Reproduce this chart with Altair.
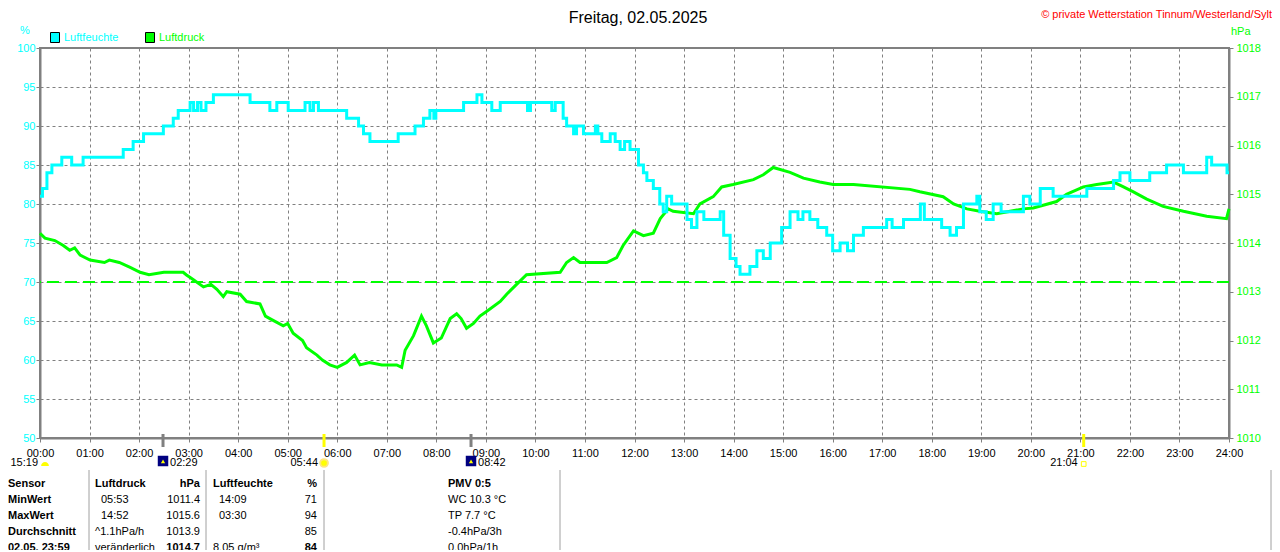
import altair as alt
import pandas as pd

# ---------------- data ----------------
hum_hours = [0.00, 0.05, 0.14, 0.24, 0.44, 0.64, 0.87, 1.68, 1.88, 2.09, 2.49, 2.69, 2.79, 3.03,
             3.10, 3.18, 3.25, 3.35, 3.50, 4.24, 4.64, 4.78, 5.01, 5.35, 5.45, 5.52, 5.62, 6.19,
             6.43, 6.53, 6.66, 7.23, 7.57, 7.74, 7.87, 7.95, 7.99, 8.55, 8.82, 8.92, 9.12, 9.29,
             9.84, 9.90, 10.33, 10.40, 10.56, 10.63, 10.77, 10.83, 10.97, 11.21, 11.26, 11.34,
             11.51, 11.61, 11.71, 11.80, 11.91, 12.08, 12.18, 12.25, 12.38, 12.51, 12.58, 12.65,
             12.75, 13.06, 13.15, 13.26, 13.40, 13.73, 13.80, 13.93, 14.05, 14.13, 14.33, 14.47,
             14.60, 14.74, 14.97, 15.14, 15.30, 15.40, 15.54, 15.70, 15.88, 16.00, 16.15, 16.30,
             16.42, 16.62, 17.09, 17.20, 17.43, 17.77, 17.85, 18.20, 18.37, 18.50, 18.64, 18.91,
             18.97, 19.10, 19.24, 19.40, 19.85, 19.98, 20.19, 20.45, 21.13, 21.67, 21.80, 22.00,
             22.40, 22.74, 23.08, 23.55, 23.65, 23.96, 24.00]
hum_values = [81, 82, 84, 85, 86, 85, 86, 87, 88, 89, 90, 91, 92, 93,
              92, 93, 92, 93, 94, 93, 92, 93, 92, 93, 92, 93, 92, 91,
              90, 89, 88, 89, 90, 91, 92, 91, 92, 93, 94, 93, 92, 93,
              92, 93, 92, 93, 91, 90, 89, 90, 89, 90, 89, 88,
              89, 88, 87, 88, 87, 85, 84, 83, 82, 80, 79, 81,
              80, 78, 77, 79, 78, 79, 76, 73, 72, 71, 72, 74,
              73, 75, 77, 79, 78, 79, 78, 77, 76, 74, 75, 74,
              76, 77, 78, 77, 78, 80, 78, 77, 76, 77, 80, 81,
              79, 78, 80, 79, 81, 80, 82, 81, 82, 83, 84, 83,
              84, 85, 84, 86, 85, 84, 84]

pres_hours = [0.00, 0.10, 0.30, 0.47, 0.60, 0.70, 0.81, 1.01, 1.30, 1.40, 1.60, 1.82, 2.02, 2.20,
              2.50, 2.89, 2.95, 3.09, 3.30, 3.45, 3.57, 3.70, 3.77, 4.04, 4.17, 4.44, 4.55, 4.64,
              4.91, 5.00, 5.11, 5.30, 5.38, 5.59, 5.70, 5.85, 6.00, 6.19, 6.35, 6.46, 6.65, 6.90,
              7.20, 7.30, 7.37, 7.54, 7.70, 7.80, 7.94, 8.10, 8.28, 8.41, 8.50, 8.61, 8.75, 8.88,
              9.02, 9.29, 9.42, 9.62, 9.82, 10.50, 10.63, 10.77, 10.90, 11.44, 11.64, 11.77, 11.98,
              12.18, 12.38, 12.52, 12.68, 12.78, 13.19, 13.32, 13.59, 13.76, 13.99, 14.40, 14.60,
              14.80, 15.14, 15.41, 15.74, 16.01, 16.42, 17.56, 17.76, 18.23, 18.44, 18.71, 18.97,
              19.31, 19.85, 20.05, 20.52, 20.72, 21.06, 21.33, 21.67, 21.87, 22.07, 22.34, 22.67,
              23.08, 23.55, 23.95, 24.00]
pres_values = [1014.20, 1014.10, 1014.05, 1013.95, 1013.85, 1013.90, 1013.75, 1013.65, 1013.60,
               1013.65, 1013.60, 1013.50, 1013.40, 1013.35, 1013.40, 1013.40, 1013.35, 1013.25,
               1013.10, 1013.15, 1013.05, 1012.90, 1013.00, 1012.95, 1012.80, 1012.75, 1012.50,
               1012.45, 1012.30, 1012.35, 1012.15, 1012.00, 1011.85, 1011.70, 1011.60, 1011.50,
               1011.45, 1011.55, 1011.70, 1011.50, 1011.55, 1011.50, 1011.50, 1011.45, 1011.80,
               1012.10, 1012.50, 1012.30, 1011.95, 1012.05, 1012.45, 1012.55, 1012.45, 1012.25,
               1012.35, 1012.50, 1012.60, 1012.80, 1012.95, 1013.15, 1013.35, 1013.40, 1013.60,
               1013.70, 1013.60, 1013.60, 1013.70, 1013.95, 1014.25, 1014.15, 1014.20, 1014.50,
               1014.70, 1014.65, 1014.60, 1014.80, 1014.95, 1015.15, 1015.20, 1015.30, 1015.40,
               1015.55, 1015.45, 1015.33, 1015.25, 1015.20, 1015.20, 1015.10, 1015.05, 1014.95,
               1014.80, 1014.70, 1014.65, 1014.60, 1014.70, 1014.72, 1014.85, 1015.00, 1015.15,
               1015.20, 1015.25, 1015.15, 1015.05, 1014.90, 1014.75, 1014.65, 1014.55, 1014.50,
               1014.70]

ref_pressure = [1013.2]

event_hours = [2.483, 5.733, 8.700, 21.067]
event_labels = ["02:29", "05:44", "08:42", "21:04"]
event_kinds = ["moon", "sun", "moon", "sun"]

title_text = "Freitag, 02.05.2025"
copyright_text = "\u00a9 private Wetterstation Tinnum/Westerland/Sylt"
series_names = ["Luftfeuchte", "Luftdruck"]

table_rows = [
    ["Sensor", "Luftdruck", "hPa", "Luftfeuchte", "%", "PMV 0:5"],
    ["MinWert", "05:53", "1011.4", "14:09", "71", "WC 10.3 \u00b0C"],
    ["MaxWert", "14:52", "1015.6", "03:30", "94", "TP 7.7 \u00b0C"],
    ["Durchschnitt", "^1.1hPa/h", "1013.9", "", "85", "-0.4hPa/3h"],
    ["02.05.  23:59", "ver\u00e4nderlich", "1014.7", "8.05 g/m\u00b3", "84", "0.0hPa/1h"],
]

# ---------------- styling / layout ----------------
W, H = 1189, 390
X0, Y0 = 40, 48
FONT = "Liberation Sans"
NARROW = "Liberation Sans Narrow, Liberation Sans"
CYAN = "#00FFFF"
GREEN = "#00FF00"
GRAY = "#808080"

hum_df = pd.DataFrame({"hour": hum_hours, "hum": hum_values})
pres_df = pd.DataFrame({"hour": pres_hours, "p": pres_values})
ref_df = pd.DataFrame({"p": ref_pressure})
ev_df = pd.DataFrame({"hour": event_hours, "label": event_labels, "kind": event_kinds})

x_scale = alt.Scale(domain=[0, 24], nice=False, zero=False)
hum_scale = alt.Scale(domain=[50, 100], nice=False, zero=False)
p_scale = alt.Scale(domain=[1010, 1018], nice=False, zero=False)

x_axis = alt.Axis(values=list(range(25)),
                  labelExpr="(datum.value < 10 ? '0' : '') + datum.value + ':00'",
                  grid=True, gridDash=[3, 3], gridColor=GRAY, gridOpacity=1, gridWidth=1,
                  domainColor=GRAY, domainWidth=2, tickColor=GRAY, tickSize=4,
                  labelColor="black", labelFont=NARROW, labelFontSize=11, labelPadding=5,
                  labelFlush=False, labelOverlap=False, title=None)
hum_axis = alt.Axis(values=list(range(50, 101, 5)), orient="left",
                    grid=True, gridDash=[3, 3], gridColor=GRAY, gridOpacity=1, gridWidth=1,
                    domainColor=GRAY, domainWidth=2, tickColor=GRAY, tickSize=4,
                    labelColor=CYAN, labelFont=FONT, labelFontSize=11, labelPadding=1,
                    title=None)
p_axis = alt.Axis(values=list(range(1010, 1019)), orient="right", grid=False,
                  domainColor=GRAY, domainWidth=2, tickColor=GRAY, tickSize=4,
                  labelColor=GREEN, labelFont=FONT, labelFontSize=11, labelPadding=3,
                  format="d", title=None)

pres_line = alt.Chart(pres_df).mark_line(color=GREEN, strokeWidth=3).encode(
    x=alt.X("hour:Q", scale=x_scale, axis=x_axis),
    y=alt.Y("p:Q", scale=p_scale, axis=p_axis),
)
hum_line = alt.Chart(hum_df).mark_line(color=CYAN, strokeWidth=3, interpolate="step-after").encode(
    x=alt.X("hour:Q", scale=x_scale, axis=x_axis),
    y=alt.Y("hum:Q", scale=hum_scale, axis=hum_axis),
)
ref_rule = alt.Chart(ref_df).mark_rule(color=GREEN, strokeWidth=2, strokeDash=[12, 6]).encode(
    y=alt.Y("p:Q", scale=p_scale, axis=None),
)

ev_rules = alt.Chart(ev_df).mark_rule(strokeWidth=3).encode(
    x=alt.X("hour:Q", scale=x_scale),
    y=alt.value(434 - Y0), y2=alt.value(447 - Y0),
    color=alt.Color("kind:N", scale=alt.Scale(domain=["moon", "sun"], range=[GRAY, "#FFFF00"]), legend=None),
)
moon_icons = alt.Chart(ev_df).transform_filter("datum.kind == 'moon'").mark_square(
    size=110, color="#000080", opacity=1, filled=True).encode(
    x=alt.X("hour:Q", scale=x_scale), y=alt.value(461 - Y0))
moon_arrow = alt.Chart(ev_df).transform_filter("datum.kind == 'moon'").mark_point(
    shape="triangle", size=18, color="#FFFF00", filled=True, opacity=1).encode(
    x=alt.X("hour:Q", scale=x_scale), y=alt.value(462 - Y0))
sun_icon = alt.Chart(ev_df).transform_filter("datum.label == '05:44'").mark_point(
    shape="circle", size=60, color="#FFFF00", filled=True, opacity=1,
    stroke="#FFE680", strokeWidth=2).encode(
    x=alt.X("hour:Q", scale=x_scale), y=alt.value(463 - Y0))
sunset_icon = alt.Chart(ev_df).transform_filter("datum.label == '21:04'").mark_point(
    shape="square", size=22, color="#FFFF00", filled=False, opacity=1, strokeWidth=1).encode(
    x=alt.X("hour:Q", scale=x_scale), y=alt.value(464 - Y0))
ev_text_left = alt.Chart(ev_df).transform_filter("datum.kind == 'moon'").mark_text(
    align="left", baseline="middle", dx=7, font=FONT, fontSize=11, color="black").encode(
    x=alt.X("hour:Q", scale=x_scale), y=alt.value(463 - Y0), text="label:N")
ev_text_right = alt.Chart(ev_df).transform_filter("datum.kind == 'sun'").mark_text(
    align="right", baseline="middle", dx=-6, font=FONT, fontSize=11, color="black").encode(
    x=alt.X("hour:Q", scale=x_scale), y=alt.value(463 - Y0), text="label:N")


def txt(s, px, py, color="black", size=11, weight="normal", align="left", font=FONT):
    return alt.Chart(alt.Data(values=[{"t": s}])).mark_text(
        align=align, baseline="middle", font=font, fontSize=size, fontWeight=weight, color=color
    ).encode(x=alt.value(px - X0), y=alt.value(py - Y0), text=alt.Text("t:N"))


def box(x1, y1, x2, y2, fill):
    return alt.Chart(alt.Data(values=[{"a": 1}])).mark_rect(
        fill=fill, stroke="black", strokeWidth=1, opacity=1).encode(
        x=alt.value(x1 - X0), x2=alt.value(x2 - X0), y=alt.value(y1 - Y0), y2=alt.value(y2 - Y0))


def vline(px, y1, y2, color, width=1):
    return alt.Chart(alt.Data(values=[{"a": 1}])).mark_rule(color=color, strokeWidth=width).encode(
        x=alt.value(px - X0), y=alt.value(y1 - Y0), y2=alt.value(y2 - Y0))


deco = [
    txt(title_text, 638, 17.5, size=16, align="center"),
    txt(copyright_text, 1272, 15, color="#FF0000", align="right"),
    txt("%", 25, 31, color=CYAN, align="center"),
    txt("hPa", 1231, 32, color=GREEN),
    box(50.5, 32.5, 59.5, 42.5, CYAN),
    txt(series_names[0], 64, 38, color=CYAN),
    box(145.5, 32.5, 154.5, 42.5, GREEN),
    txt(series_names[1], 159, 38, color=GREEN),
    txt("15:19", 38, 463, align="right"),
]

# previous-day icon next to 15:19 (half dome)
dome = alt.Chart(alt.Data(values=[{"a": 1}])).mark_point(
    shape="M-1,0.5 A1,1 0 0 1 1,0.5 Z", size=60, color="#FFFF00", filled=True, opacity=1).encode(
    x=alt.value(45 - X0), y=alt.value(464 - Y0))

# table
col_x = [8, 95, 200, 213, 317, 448]
col_align = ["left", "left", "right", "left", "right", "left"]
row_y = [484, 500, 516, 532, 548]
table_layers = []
for r, row in enumerate(table_rows):
    for c, cell in enumerate(row):
        if not cell:
            continue
        bold = r == 0 or c == 0 or (r == 4 and c in (2, 4))
        indent = 6 if (r in (1, 2) and c in (1, 3)) else 0
        table_layers.append(txt(cell, col_x[c] + indent, row_y[r],
                                weight="bold" if bold else "normal", align=col_align[c]))
for sx in [89, 206, 324, 560]:
    table_layers.append(vline(sx, 470, 560, "#A0A0A0"))
table_layers.append(vline(1271, 470, 560, "#A0A0A0"))

chart = alt.layer(
    pres_line, ref_rule, hum_line, ev_rules, moon_icons, moon_arrow, sun_icon, sunset_icon,
    ev_text_left, ev_text_right, dome, *deco, *table_layers
).resolve_scale(y="independent", color="independent").properties(
    width=W, height=H, background="white",
    autosize=alt.AutoSizeParams(type="none"),
    padding={"left": 32, "top": 40, "right": 43, "bottom": 112},
).configure_view(stroke=GRAY, strokeWidth=2)

chart.save("out.html", embed_options={"renderer": "svg", "actions": False})
